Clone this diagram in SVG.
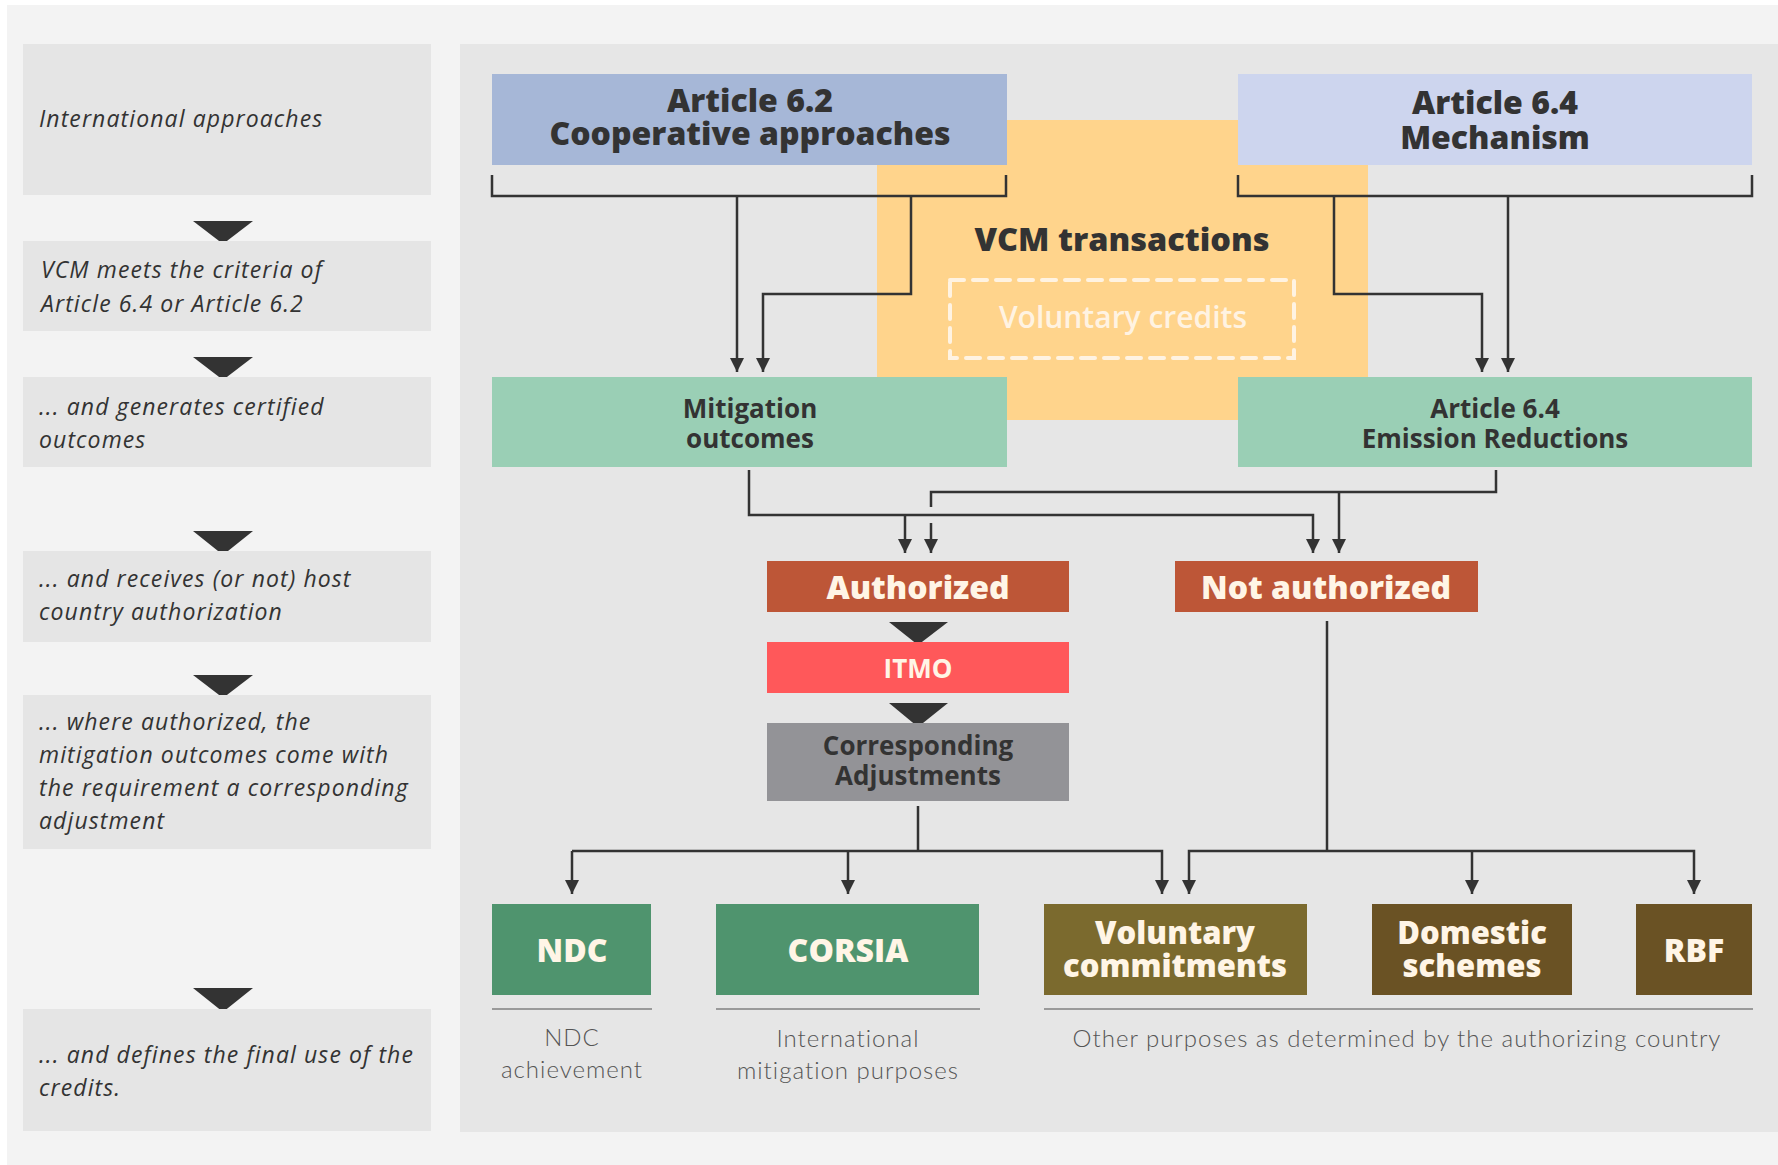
<svg xmlns="http://www.w3.org/2000/svg" width="1778" height="1165" viewBox="0 0 1778 1165">
<defs>
<style>
.step{fill:#e5e5e5}
.stxt{font-family:"Open Sans","Noto Sans",sans-serif;font-style:italic;font-size:23px;letter-spacing:1.1px;fill:#333}
.hd{font-family:"Open Sans","Noto Sans",sans-serif;font-weight:800;fill:#333;text-anchor:middle}
.md{font-family:"Open Sans","Noto Sans",sans-serif;font-weight:700;fill:#333;text-anchor:middle}
.cr{font-family:"Open Sans","Noto Sans",sans-serif;font-weight:800;fill:#fff5e6;text-anchor:middle}
.lt{font-family:Lato,"Noto Sans",sans-serif;font-weight:300;font-size:24px;letter-spacing:1px;fill:#555;text-anchor:middle}
.ln{fill:none;stroke:#333;stroke-width:2.5}
.ar{marker-end:url(#ah)}
.tri{fill:#333}
.ul{stroke:#9a9a9a;stroke-width:2}
</style>
<marker id="ah" markerWidth="14" markerHeight="14" refX="14" refY="7" orient="auto" markerUnits="userSpaceOnUse"><path d="M0,0 L14,7 L0,14 z" fill="#333"/></marker>
</defs>
<rect x="0" y="0" width="1778" height="1165" fill="#ffffff"/>
<rect x="7" y="5" width="1771" height="1160" fill="#f3f3f3"/>
<rect x="460" y="44" width="1318" height="1088" fill="#e6e6e6"/>

<g id="steps">
<g id="step1"><rect class="step" x="23" y="44" width="408" height="151"/><text class="stxt" x="39" y="127">International approaches</text></g>
<polygon class="tri" points="193,221 253,221 223,244"/>
<g id="step2"><rect class="step" x="23" y="241" width="408" height="90"/><text class="stxt" x="41" y="278">VCM meets the criteria of</text><text class="stxt" x="41" y="312">Article 6.4 or Article 6.2</text></g>
<polygon class="tri" points="193,357 253,357 223,380"/>
<g id="step3"><rect class="step" x="23" y="377" width="408" height="90"/><text class="stxt" x="39" y="415">... and generates certified</text><text class="stxt" x="39" y="448">outcomes</text></g>
<polygon class="tri" points="193,531 253,531 223,555"/>
<g id="step4"><rect class="step" x="23" y="551" width="408" height="91"/><text class="stxt" x="39" y="587">... and receives (or not) host</text><text class="stxt" x="39" y="620">country authorization</text></g>
<polygon class="tri" points="193,675 253,675 223,698"/>
<g id="step5"><rect class="step" x="23" y="695" width="408" height="154"/><text class="stxt" x="39" y="730">... where authorized, the</text><text class="stxt" x="39" y="763">mitigation outcomes come with</text><text class="stxt" x="39" y="796">the requirement a corresponding</text><text class="stxt" x="39" y="829">adjustment</text></g>
<polygon class="tri" points="193,988 253,988 223,1012"/>
<g id="step6"><rect class="step" x="23" y="1009" width="408" height="122"/><text class="stxt" x="39" y="1063">... and defines the final use of the</text><text class="stxt" x="39" y="1096">credits.</text></g>
</g>

<g id="vcm">
<rect x="877" y="120" width="491" height="300" fill="#ffd48c"/>
<text class="hd" x="1122" y="251" font-size="32.5">VCM transactions</text>
<rect x="950" y="280" width="344" height="78" fill="none" stroke="#fff3e2" stroke-width="4" stroke-dasharray="14 9" stroke-linecap="round"/>
<text class="md" x="1123" y="328" font-size="30" style="fill:#fff3e2;font-weight:600">Voluntary credits</text>
</g>

<g id="art62"><rect x="492" y="74" width="515" height="91" fill="#a6b7d7"/><text class="hd" x="750" y="112" font-size="32">Article 6.2</text><text class="hd" x="750" y="145" font-size="32">Cooperative approaches</text></g>
<g id="art64"><rect x="1238" y="74" width="514" height="91" fill="#cdd5ee"/><text class="hd" x="1495" y="114" font-size="32">Article 6.4</text><text class="hd" x="1495" y="149" font-size="32">Mechanism</text></g>
<g id="mo"><rect x="492" y="377" width="515" height="90" fill="#9acfb5"/><text class="md" x="750" y="418" font-size="26">Mitigation</text><text class="md" x="750" y="448" font-size="26">outcomes</text></g>
<g id="er"><rect x="1238" y="377" width="514" height="90" fill="#9acfb5"/><text class="md" x="1495" y="418" font-size="26">Article 6.4</text><text class="md" x="1495" y="448" font-size="26">Emission Reductions</text></g>

<g id="auth"><rect x="767" y="561" width="302" height="51" fill="#bd5637"/><text class="cr" x="918" y="599" font-size="32">Authorized</text></g>
<g id="notauth"><rect x="1175" y="561" width="303" height="51" fill="#bd5637"/><text class="cr" x="1326" y="599" font-size="32">Not authorized</text></g>
<polygon class="tri" points="889,622 948,622 918,645"/>
<g id="itmo"><rect x="767" y="642" width="302" height="51" fill="#ff585a"/><text class="md" x="918" y="678" font-size="26" style="fill:#fff5e6">ITMO</text></g>
<polygon class="tri" points="889,703 948,703 918,727"/>
<g id="ca"><rect x="767" y="723" width="302" height="78" fill="#939397"/><text class="md" x="918" y="755" font-size="26">Corresponding</text><text class="md" x="918" y="785" font-size="26">Adjustments</text></g>

<g id="ndc"><rect x="492" y="904" width="159" height="91" fill="#4f946e"/><text class="cr" x="572" y="962" font-size="32">NDC</text></g>
<g id="corsia"><rect x="716" y="904" width="263" height="91" fill="#4f946e"/><text class="cr" x="848" y="962" font-size="32">CORSIA</text></g>
<g id="vol"><rect x="1044" y="904" width="263" height="91" fill="#7b6a2e"/><text class="cr" x="1175" y="944" font-size="31">Voluntary</text><text class="cr" x="1175" y="977" font-size="31">commitments</text></g>
<g id="dom"><rect x="1372" y="904" width="200" height="91" fill="#6a5224"/><text class="cr" x="1472" y="944" font-size="31">Domestic</text><text class="cr" x="1472" y="977" font-size="31">schemes</text></g>
<g id="rbf"><rect x="1636" y="904" width="116" height="91" fill="#6a5224"/><text class="cr" x="1694" y="962" font-size="32">RBF</text></g>

<g id="labels">
<line class="ul" x1="492" y1="1009" x2="652" y2="1009"/>
<line class="ul" x1="716" y1="1009" x2="980" y2="1009"/>
<line class="ul" x1="1044" y1="1009" x2="1753" y2="1009"/>
<text class="lt" x="572" y="1046">NDC</text><text class="lt" x="572" y="1078">achievement</text>
<text class="lt" x="848" y="1047">International</text><text class="lt" x="848" y="1079">mitigation purposes</text>
<text class="lt" x="1397" y="1047">Other purposes as determined by the authorizing country</text>
</g>

<g id="connectors">
<path class="ln" d="M492,175 V196 H1006 V175"/>
<path class="ln ar" d="M737,196 V372"/>
<path class="ln ar" d="M911,196 V294 H763 V372"/>
<path class="ln" d="M1238,175 V196 H1752 V175"/>
<path class="ln ar" d="M1334,196 V294 H1482 V372"/>
<path class="ln ar" d="M1508,196 V372"/>
<path class="ln ar" d="M749,470 V515 H1313 V553"/>
<path class="ln ar" d="M905,515 V553"/>
<path class="ln" d="M1496,470 V492 H931 V507"/>
<path class="ln ar" d="M931,523 V553"/>
<path class="ln ar" d="M1339,492 V553"/>
<path class="ln" d="M918,806 V851"/>
<path class="ln ar" d="M572,851 V894"/>
<path class="ln ar" d="M572,851 H1162 V894"/>
<path class="ln ar" d="M848,851 V894"/>
<path class="ln" d="M1327,621 V851"/>
<path class="ln ar" d="M1327,851 H1694 V894"/>
<path class="ln ar" d="M1327,851 H1189 V894"/>
<path class="ln ar" d="M1472,851 V894"/>
</g>
</svg>
